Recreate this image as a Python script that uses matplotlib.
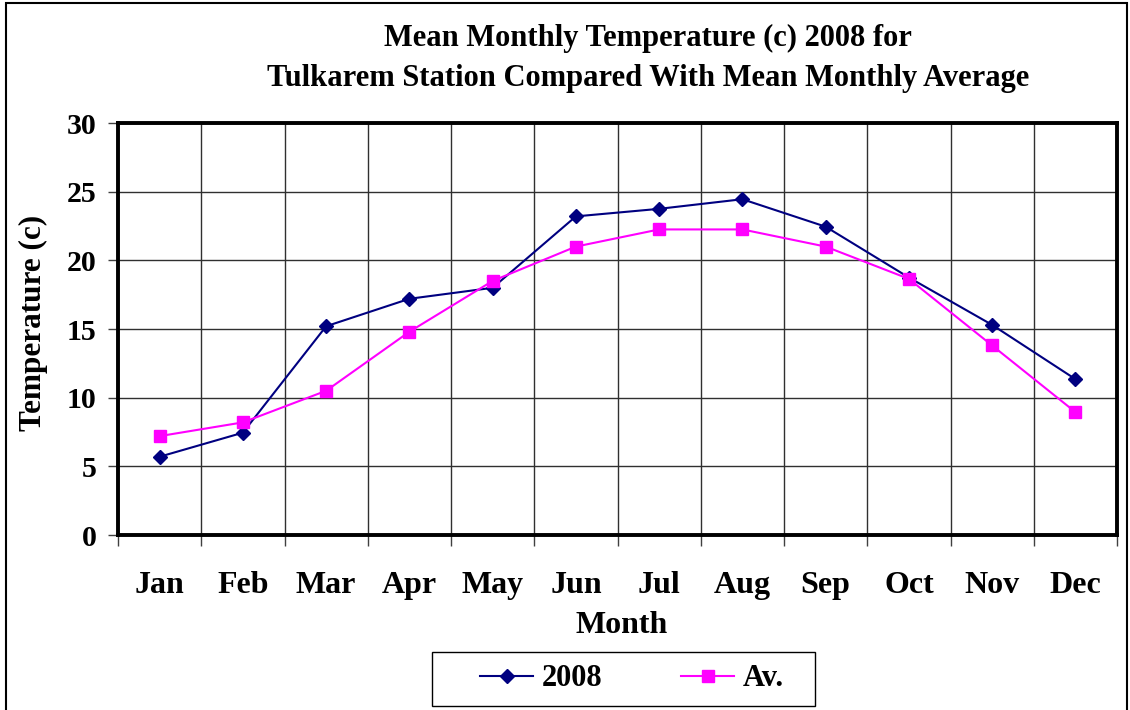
import matplotlib
matplotlib.use("Agg")
import matplotlib.pyplot as plt
from matplotlib.patches import Rectangle

months = ["Jan", "Feb", "Mar", "Apr", "May", "Jun", "Jul", "Aug", "Sep", "Oct", "Nov", "Dec"]
temp_2008 = [5.7, 7.45, 15.2, 17.2, 18.0, 23.2, 23.75, 24.45, 22.45, 18.75, 15.3, 11.35]
temp_avg = [7.2, 8.2, 10.5, 14.8, 18.5, 21.0, 22.25, 22.25, 21.0, 18.65, 13.8, 8.95]
yticks = [0, 5, 10, 15, 20, 25, 30]

plt.rcParams['font.family'] = ['Liberation Serif', 'DejaVu Serif']
plt.rcParams['font.weight'] = 'bold'

W, H = 1130, 710
fig = plt.figure(figsize=(W / 100, H / 100), dpi=100)
ax = fig.add_axes([118 / W, 175 / H, 999 / W, 412 / H])

x = list(range(len(months)))
ax.plot(x, temp_2008, color='#000080', lw=1.5, marker='D', ms=7, label='2008', zorder=3)
ax.plot(x, temp_avg, color='#FF00FF', lw=1.5, marker='s', ms=8, label='Av.', zorder=3)

ax.set_xlim(-0.5, len(months) - 0.5)
ax.set_ylim(0, 30)
ax.set_yticks(yticks)
ax.set_yticklabels([str(v) for v in yticks], fontsize=21.5, fontweight='bold')
ax.set_xticks([i - 0.5 for i in range(len(months) + 1)])
ax.set_xticklabels([])
ax.set_xticks(x, minor=True)
ax.set_xticklabels(months, minor=True, fontsize=23, fontweight='bold')
ax.tick_params(axis='x', which='major', length=8, width=1, direction='out', color='#404040')
ax.tick_params(axis='x', which='minor', length=0, pad=41.5)
for lbl in ax.get_xticklabels(minor=True):
    lbl.set_verticalalignment('baseline')
ax.tick_params(axis='y', length=7, width=1, direction='out', pad=8.5, color='#404040')

ax.grid(True, which='major', color='#303030', lw=1)
ax.set_axisbelow(True)
for s in ax.spines.values():
    s.set_linewidth(2.8)
    s.set_color('black')

# axis titles
fig.text(621.5 / W, 1 - 633 / H, 'Month', ha='center', va='baseline', fontsize=23, fontweight='bold')
fig.text(33 / W, 1 - 323 / H, 'Temperature (c)', ha='center', va='center', rotation=90,
         fontsize=22.5, fontweight='bold')

# chart title
fig.text(648 / W, 1 - 46 / H, 'Mean Monthly Temperature (c) 2008 for', ha='center', va='baseline',
         fontsize=22, fontweight='bold')
fig.text(648 / W, 1 - 86 / H, 'Tulkarem Station Compared With Mean Monthly Average', ha='center',
         va='baseline', fontsize=22, fontweight='bold')

# legend (box drawn separately for asymmetric padding)
leg = fig.legend(loc='center', bbox_to_anchor=(632 / W, 1 - 679 / H), ncol=2, frameon=False,
                 prop={'size': 22, 'weight': 'bold'},
                 handlelength=1.72, handletextpad=0.28, columnspacing=2.6, borderpad=0.0,
                 borderaxespad=0)
fig.patches.append(Rectangle((432 / W, 1 - 706 / H), 383 / W, 54 / H, transform=fig.transFigure,
                             fill=False, edgecolor='black', lw=1.0))

fig.patches.append(Rectangle((0.005, -0.01), 0.992, 1.006, transform=fig.transFigure,
                             fill=False, edgecolor='black', lw=1.5))

fig.savefig('out.png', dpi=100)
